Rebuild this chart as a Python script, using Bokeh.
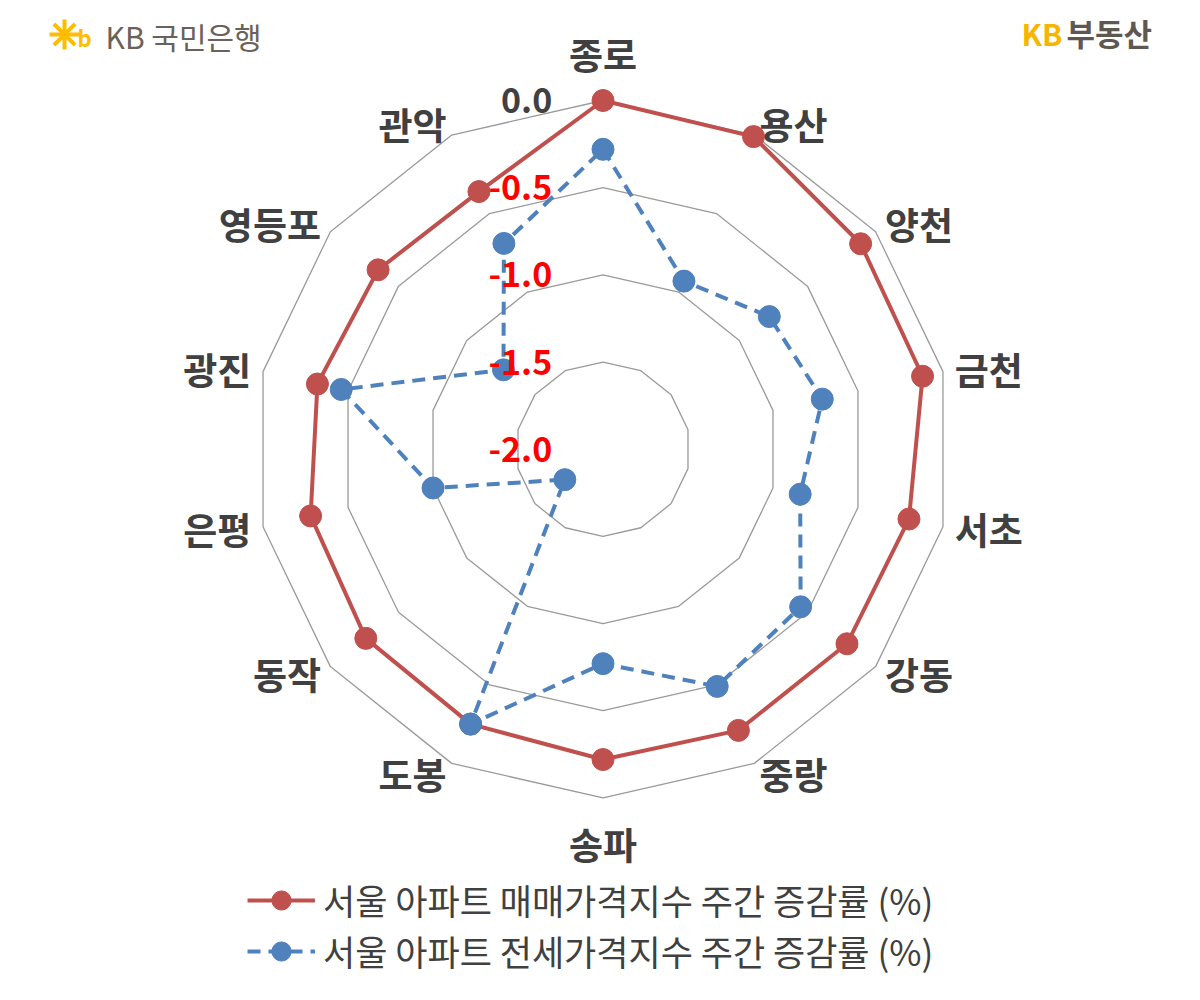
import numpy as np
from bokeh.plotting import figure
from bokeh.models import Range1d, Legend, LegendItem, ColumnDataSource
from bokeh.core.properties import value
from bokeh.embed import file_html
from bokeh.resources import INLINE

# ---------------- data ----------------
categories = ["종로", "용산", "양천", "금천", "서초", "강동", "중랑",
              "송파", "도봉", "동작", "은평", "광진", "영등포", "관악"]
sale_change = [0.00, -0.01, -0.11, -0.12, -0.20, -0.21, -0.21,
               -0.22, -0.25, -0.26, -0.28, -0.32, -0.35, -0.36]
jeonse_change = [-0.28, -0.93, -0.78, -0.71, -0.84, -0.55, -0.49,
                 -0.77, -0.25, -1.72, -1.00, -0.46, -1.27, -0.69]
ring_values = [-2.0, -1.5, -1.0, -0.5, 0.0]
ring_labels = ["-2.0", "-1.5", "-1.0", "-0.5", "0.0"]
series_names = ["서울 아파트 매매가격지수 주간 증감률 (%)",
                "서울 아파트 전세가격지수 주간 증감률 (%)"]

# ---------------- styling ----------------
RED = "#C0504D"
BLUE = "#4F81BD"
GRID = "#9A9A9A"
TXT = "#404040"
FONT = "Noto Sans CJK KR"

W, H = 1184, 984
PX = 174.35                 # pixels per value unit
CX, CY = 602.5, 448.7       # centre of the radar, canvas pixels
R_MIN = ring_values[0]

p = figure(width=W, height=H, output_backend="svg", toolbar_location=None,
           x_range=Range1d(-CX / PX, (W - CX) / PX),
           y_range=Range1d(-(H - CY) / PX, CY / PX),
           min_border=0)
p.axis.visible = False
p.grid.visible = False
p.outline_line_color = None
p.background_fill_color = "white"
p.border_fill_color = "white"


def sx(x):  # canvas x pixel -> data
    return (x - CX) / PX


def sy(y):  # canvas y pixel -> data
    return (CY - y) / PX


N = len(categories)
theta = 2 * np.pi * np.arange(N) / N
s, c = np.sin(theta), np.cos(theta)

# ---------------- rings ----------------
ring_xs, ring_ys = [], []
for rv in ring_values[1:]:
    r = rv - R_MIN
    ring_xs.append(list(np.append(r * s, r * s[0])))
    ring_ys.append(list(np.append(r * c, r * c[0])))
p.multi_line(ring_xs, ring_ys, line_color=GRID, line_width=1.3)


# ---------------- series ----------------
def polar(vals):
    r = np.array(vals) - R_MIN
    return r * s, r * c


renderers = []
for vals, col, dash in [(sale_change, RED, "solid"), (jeonse_change, BLUE, "13 8")]:
    x, y = polar(vals)
    ln = p.line(np.append(x, x[0]), np.append(y, y[0]), line_color=col,
                line_width=4, line_dash=dash, line_join="round")
    mk = p.scatter(x, y, size=22, marker="circle", fill_color=col, line_color=col)
    renderers.append([ln, mk])

# ---------------- category labels ----------------
R_out = ring_values[-1] - R_MIN
g_side = 12 / PX
g_vert = 46.5 / PX
right = s > 0.1
left = s < -0.1
vert = ~(right | left)
for mask, align, gap in [(right, "left", g_side), (left, "right", g_side), (vert, "center", g_vert)]:
    idx = np.where(mask)[0]
    src = ColumnDataSource(dict(
        x=(R_out + gap) * s[idx], y=(R_out + gap) * c[idx],
        t=[categories[i] for i in idx]))
    p.text("x", "y", text="t", source=src, text_align=align, text_baseline="middle",
           text_font=value(FONT), text_font_style="bold", text_font_size="37px",
           text_color=TXT)

# ---------------- radial tick labels ----------------
tick_src = ColumnDataSource(dict(
    x=[-50.8 / PX] * len(ring_values),
    y=[(rv - R_MIN) for rv in ring_values],
    t=ring_labels,
    col=["#FF0000"] * (len(ring_values) - 1) + [TXT]))
p.text("x", "y", text="t", source=tick_src, text_align="right", text_baseline="middle",
       text_font=value(FONT), text_font_style="bold", text_font_size="34px",
       text_color="col")

# ---------------- legend ----------------
legend = Legend(items=[LegendItem(label=series_names[0], renderers=renderers[0]),
                       LegendItem(label=series_names[1], renderers=renderers[1])],
                location=(247, 8), orientation="vertical",
                glyph_width=68, glyph_height=48, label_height=48, spacing=0,
                padding=0, margin=0, label_standoff=8,
                label_text_font=FONT, label_text_font_size="35px",
                label_text_color=TXT, border_line_color=None,
                background_fill_alpha=0)
p.add_layout(legend)

# ---------------- logos (as text) ----------------
p.scatter([sx(64)], [sy(34)], marker="asterisk", size=30, line_color="#FFBC00", line_width=4)
p.text([sx(77)], [sy(36)], text=["b"], text_font=value(FONT), text_font_style="bold",
       text_font_size="22px", text_color="#FFBC00", text_baseline="middle")
p.text([sx(105)], [sy(35)], text=["KB 국민은행"], text_font=value(FONT),
       text_font_size="30px", text_color="#6b6158", text_baseline="middle")
p.text([sx(1021)], [sy(32)], text=["KB"], text_font=value(FONT), text_font_style="bold",
       text_font_size="30px", text_color="#F7B500", text_baseline="middle")
p.text([sx(1066)], [sy(32)], text=["부동산"], text_font=value(FONT), text_font_style="bold",
       text_font_size="31px", text_color="#5f5850", text_baseline="middle")

open("out.html", "w").write(file_html(p, INLINE))
